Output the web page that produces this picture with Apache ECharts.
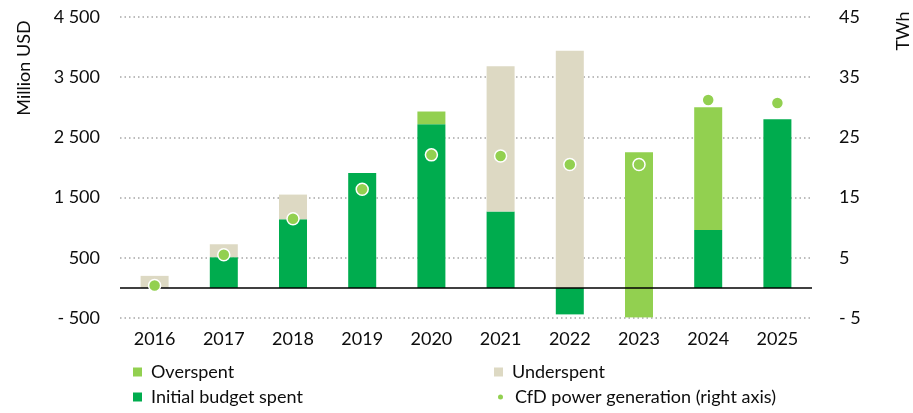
<!DOCTYPE html>
<html><head><meta charset="utf-8">
<script src="https://cdn.jsdelivr.net/npm/echarts@6/dist/echarts.min.js"></script>
<style>html,body{margin:0;padding:0;background:#fff}#c{width:913px;height:413px}</style>
</head><body><div id="c"></div>
<script>
const years = ['2016','2017','2018','2019','2020','2021','2022','2023','2024','2025'];
const initialSpent = [null, 510, 1140, 1910, 2720, 1270, -440, null, 960, 2800];
const overspent = [null, null, null, null, 210, null, null, 2254, 2040, null];
const overspentNegative = [null, null, null, null, null, null, null, -490, null, null];
const underspent = [200, 215, 410, null, null, 2410, 3940, null, null, null];
const generation = [0.4, 5.5, 11.5, 16.4, 22.1, 21.9, 20.5, 20.5, 31.2, 30.7];
const leftTicks = { min: -500, max: 4500, interval: 1000 };
const rightTicks = { min: -5, max: 45, interval: 10 };

const FONT = 'Lato';
const FS = 18;
const TXT = '#0d0d0d';
function fmt(v) {
  const s = String(Math.abs(v)).replace(/\B(?=(\d{3})+(?!\d))/g, ' ');
  return v < 0 ? '- ' + s : s;
}
const C_DARK = '#00AC4E', C_LIGHT = '#92D050', C_BEIGE = '#DDD9C3';
const legendBase = { orient: 'vertical', padding: 0, itemWidth: 9, itemHeight: 9,
  textStyle: { fontFamily: FONT, fontSize: FS, color: TXT, padding: [0, 0, 0, 4] }, itemGap: 6 };

const chart = echarts.init(document.getElementById('c'));
chart.setOption({
  animation: false,
  backgroundColor: '#fff',
  grid: { left: 120, right: 101, top: 17, bottom: 95 },
  legend: [
    Object.assign({}, legendBase, { left: 133, top: 363, data: [{ name: 'Overspent', icon: 'rect' }] }),
    Object.assign({}, legendBase, { left: 133, top: 388, data: [{ name: 'Initial budget spent', icon: 'rect' }] }),
    Object.assign({}, legendBase, { left: 494, top: 363, data: [{ name: 'Underspent', icon: 'rect' }] }),
    Object.assign({}, legendBase, { left: 496, top: 388, itemWidth: 7, itemHeight: 7,
      textStyle: Object.assign({}, legendBase.textStyle, { padding: [0, 0, 0, 6] }),
      data: [{ name: 'CfD power generation (right axis)', icon: 'circle' }] })
  ],
  xAxis: {
    type: 'category', data: years,
    axisLine: { show: false }, axisTick: { show: false },
    axisLabel: { fontFamily: FONT, fontSize: FS, color: TXT, margin: 12 }
  },
  yAxis: [
    {
      type: 'value', min: leftTicks.min, max: leftTicks.max, interval: leftTicks.interval,
      axisLine: { show: false }, axisTick: { show: false },
      axisLabel: { fontFamily: FONT, fontSize: FS, color: TXT, margin: 20, formatter: fmt },
      splitLine: { show: true, lineStyle: { color: '#a6a6a6', width: 1.5, type: [1.5, 3] } }
    },
    {
      type: 'value', min: rightTicks.min, max: rightTicks.max, interval: rightTicks.interval,
      axisLine: { show: false }, axisTick: { show: false },
      axisLabel: { fontFamily: FONT, fontSize: FS, color: TXT, margin: 27, formatter: fmt },
      splitLine: { show: false }
    }
  ],
  graphic: [
    { type: 'text', x: 24, y: 68, rotation: Math.PI / 2,
      style: { text: 'Million USD', fontFamily: FONT, fontSize: FS, fill: TXT, align: 'center', verticalAlign: 'middle' } },
    { type: 'text', x: 903, y: 31, rotation: Math.PI / 2,
      style: { text: 'TWh', fontFamily: FONT, fontSize: FS, fill: TXT, align: 'center', verticalAlign: 'middle' } }
  ],
  series: [
    { name: 'Initial budget spent', type: 'bar', stack: 'b', barWidth: 28, data: initialSpent,
      itemStyle: { color: C_DARK },
      markLine: { silent: true, symbol: ['none', 'none'], label: { show: false },
        lineStyle: { color: '#000', width: 1.5, type: 'solid' }, data: [{ yAxis: 0 }] } },
    { name: 'Overspent', type: 'bar', stack: 'b', barWidth: 28, data: overspent, itemStyle: { color: C_LIGHT } },
    { name: 'Overspent', type: 'bar', stack: 'b', barWidth: 28, data: overspentNegative, itemStyle: { color: C_LIGHT } },
    { name: 'Underspent', type: 'bar', stack: 'b', barWidth: 28, data: underspent, itemStyle: { color: C_BEIGE } },
    { name: 'CfD power generation (right axis)', type: 'scatter', yAxisIndex: 1, data: generation,
      symbolSize: 12, z: 5,
      itemStyle: { color: C_LIGHT, borderColor: '#fff', borderWidth: 1.5, opacity: 1 } }
  ]
});
</script></body></html>
